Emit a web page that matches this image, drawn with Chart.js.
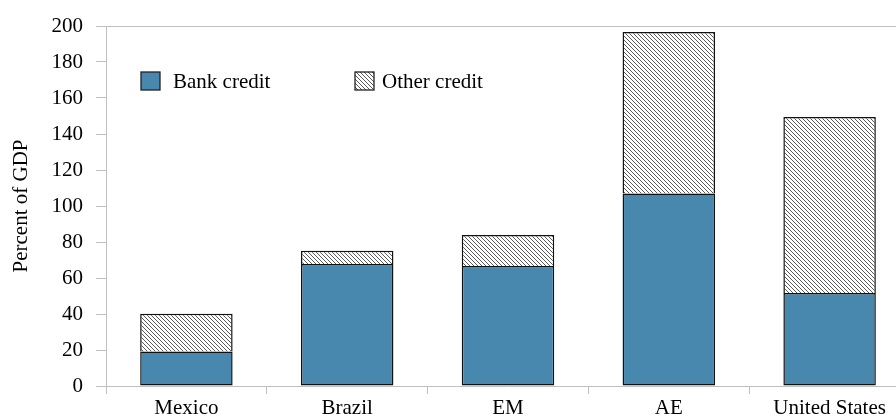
<!DOCTYPE html>
<html>
<head>
<meta charset="utf-8">
<script src="https://cdn.jsdelivr.net/npm/chart.js@4/dist/chart.umd.min.js"></script>
<style>
  html, body { margin: 0; padding: 0; overflow: hidden; background: #fff; }
  #wrap { width: 912px; height: 417px; }
</style>
</head>
<body>
<div id="wrap"><canvas id="c" width="912" height="417"></canvas></div>
<script>
const categories = ["Mexico", "Brazil", "EM", "AE", "United States"];
const bankCredit = [19.1, 67.8, 66.7, 107.0, 51.7];
const otherCredit = [21.1, 7.4, 17.2, 89.7, 97.7];
const seriesNames = ["Bank credit", "Other credit"];
const yTicks = [0, 20, 40, 60, 80, 100, 120, 140, 160, 180, 200];

const FONT = "'Liberation Serif', 'Times New Roman', serif";

function makeHatch() {
  const t = document.createElement('canvas');
  t.width = 4; t.height = 4;
  const g = t.getContext('2d');
  g.fillStyle = '#ffffff';
  g.fillRect(0, 0, 4, 4);
  g.strokeStyle = '#5a5a5a';
  g.lineWidth = 1;
  g.beginPath();
  g.moveTo(-1, -1); g.lineTo(5, 5);
  g.moveTo(-1, 3); g.lineTo(1, 5);
  g.moveTo(3, -1); g.lineTo(5, 1);
  g.stroke();
  return document.getElementById('c').getContext('2d').createPattern(t, 'repeat');
}
const hatch = makeHatch();
const BLUE = '#4887ae';

const legendPlugin = {
  id: 'insideLegend',
  afterDraw(chart) {
    const ctx = chart.ctx;
    ctx.save();
    const items = [
      { x: 141, fill: BLUE, text: seriesNames[0], tx: 173 },
      { x: 355, fill: hatch, text: seriesNames[1], tx: 382 }
    ];
    ctx.font = "21px " + FONT;
    ctx.textBaseline = 'middle';
    items.forEach(it => {
      ctx.fillStyle = it.fill;
      ctx.fillRect(it.x, 72, 19, 18);
      ctx.strokeStyle = '#222';
      ctx.lineWidth = 1.3;
      ctx.strokeRect(it.x, 72, 19, 18);
      ctx.fillStyle = '#000';
      ctx.fillText(it.text, it.tx, 82);
    });
    ctx.restore();
  }
};

new Chart(document.getElementById('c'), {
  type: 'bar',
  data: {
    labels: categories,
    datasets: [
      {
        label: seriesNames[0],
        data: bankCredit,
        backgroundColor: BLUE,
        borderColor: '#111',
        borderWidth: 1.5,
        borderSkipped: false,
        categoryPercentage: 1.0,
        barPercentage: 0.575
      },
      {
        label: seriesNames[1],
        data: otherCredit,
        backgroundColor: hatch,
        borderColor: '#111',
        borderWidth: 1.5,
        borderSkipped: 'start',
        categoryPercentage: 1.0,
        barPercentage: 0.575
      }
    ]
  },
  options: {
    responsive: false,
    animation: false,
    devicePixelRatio: 1,
    layout: { padding: { top: 26, right: 2, left: 0, bottom: 0 } },
    plugins: {
      legend: { display: false },
      tooltip: { enabled: false }
    },
    scales: {
      x: {
        stacked: true,
        afterFit(s) { s.height = 31; },
        grid: {
          offset: true,
          drawOnChartArea: false,
          drawTicks: true,
          tickLength: 8,
          tickColor: '#bfbfbf',
          color: '#bfbfbf'
        },
        border: { color: '#bfbfbf', width: 1 },
        ticks: {
          color: '#000',
          font: { family: FONT, size: 21 },
          padding: 2,
          maxRotation: 0,
          autoSkip: false
        }
      },
      y: {
        stacked: true,
        min: 0,
        max: 200,
        afterFit(s) { s.width = 106; },
        afterBuildTicks(s) { s.ticks = yTicks.map(v => ({ value: v })); },
        grid: {
          drawOnChartArea: true,
          tickLength: 10,
          tickColor: '#bfbfbf',
          color: c => (c.tick && c.tick.value === 200) ? '#bfbfbf' : 'rgba(0,0,0,0)'
        },
        border: { color: '#bfbfbf', width: 1 },
        ticks: {
          color: '#000',
          font: { family: FONT, size: 21 },
          padding: 13
        },
        title: {
          display: true,
          text: 'Percent of GDP',
          color: '#000',
          font: { family: FONT, size: 21 },
          padding: { top: 9, bottom: 0 }
        }
      }
    }
  },
  plugins: [legendPlugin]
});
</script>
</body>
</html>
